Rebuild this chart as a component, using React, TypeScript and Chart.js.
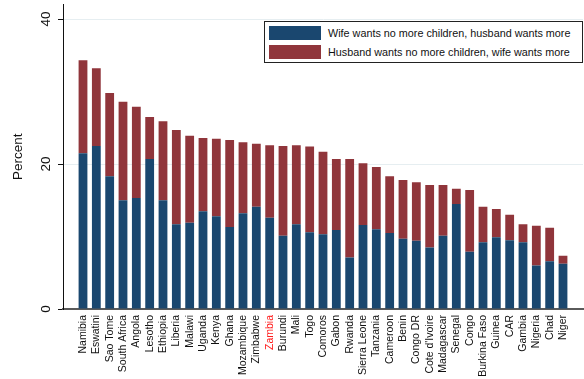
import React, { useEffect, useRef } from "react";
import { Chart, registerables } from "chart.js";

Chart.register(...registerables);

// Countries, ordered by the combined share of couples who disagree
const countries = [
  "Namibia", "Eswatini", "Sao Tome", "South Africa", "Angola", "Lesotho",
  "Ethiopia", "Liberia", "Malawi", "Uganda", "Kenya", "Ghana", "Mozambique",
  "Zimbabwe", "Zambia", "Burundi", "Mali", "Togo", "Comoros", "Gabon",
  "Rwanda", "Sierra Leone", "Tanzania", "Cameroon", "Benin", "Congo DR",
  "Cote d'Ivoire", "Madagascar", "Senegal", "Congo", "Burkina Faso",
  "Guinea", "CAR", "Gambia", "Nigeria", "Chad", "Niger",
];

// Wife wants no more children, husband wants more (%)
const wifeNoMore = [
  21.5, 22.5, 18.3, 15.0, 15.3, 20.7, 15.0, 11.7, 11.9, 13.5, 12.8, 11.3,
  13.2, 14.1, 12.6, 10.1, 11.7, 10.6, 10.3, 10.9, 7.1, 11.6, 11.0, 10.5,
  9.7, 9.4, 8.5, 10.1, 14.5, 7.9, 9.2, 9.9, 9.5, 9.2, 6.0, 6.6, 6.25,
];

// Husband wants no more children, wife wants more (%)
const husbandNoMore = [
  12.8, 10.7, 11.5, 13.6, 12.6, 5.8, 10.9, 13.0, 12.0, 10.1, 10.7, 12.0,
  9.8, 8.7, 10.0, 12.4, 10.9, 11.8, 11.4, 9.8, 13.6, 8.5, 8.6, 7.8,
  8.1, 8.1, 8.6, 7.0, 2.1, 8.5, 4.9, 3.9, 3.5, 2.5, 5.5, 4.6, 1.1,
];

const seriesLabels = [
  "Wife wants no more children, husband wants more",
  "Husband wants no more children, wife wants more",
];
const seriesColors = ["#1a476f", "#90353b"];

const yTicks = [0, 20, 40];
const highlighted = "Zambia";

const FONT = '"Liberation Sans", Arial, Helvetica, sans-serif';

// Stata-style vertical tick labels on the value axis
const yTickLabels = {
  id: "yTickLabels",
  afterDraw(chart: any) {
    const scale = chart.scales.y;
    const ctx = chart.ctx;
    ctx.save();
    ctx.font = `13.5px ${FONT}`;
    ctx.fillStyle = "#111";
    ctx.textAlign = "center";
    ctx.textBaseline = "middle";
    for (const t of scale.ticks) {
      const y = scale.getPixelForValue(t.value);
      ctx.save();
      ctx.translate(scale.right - 17, y);
      ctx.rotate(-Math.PI / 2);
      ctx.fillText(String(t.value), 0, 0);
      ctx.restore();
    }
    ctx.restore();
  },
};

export default function App() {
  const canvasRef = useRef<HTMLCanvasElement | null>(null);

  useEffect(() => {
    if (!canvasRef.current) return;
    const chart = new Chart(canvasRef.current, {
      type: "bar",
      data: {
        datasets: [
          {
            label: seriesLabels[0],
            data: wifeNoMore.map((v, i) => ({ x: i, y: v })),
            backgroundColor: seriesColors[0],
            barPercentage: 0.66,
            categoryPercentage: 1,
          },
          {
            label: seriesLabels[1],
            data: husbandNoMore.map((v, i) => ({ x: i, y: v })),
            backgroundColor: seriesColors[1],
            barPercentage: 0.66,
            categoryPercentage: 1,
          },
        ],
      },
      plugins: [yTickLabels],
      options: {
        animation: false,
        responsive: false,
        devicePixelRatio: 1,
        layout: { padding: { left: 0, right: 1, top: 4.5, bottom: 0 } },
        plugins: {
          legend: { display: false },
          tooltip: { enabled: false },
        },
        scales: {
          x: {
            type: "linear",
            stacked: true,
            offset: false,
            min: -1.5,
            max: countries.length + 0.5,
            afterBuildTicks: (s: any) => {
              s.ticks = countries.map((_, i) => ({ value: i }));
            },
            afterFit: (s: any) => {
              s.height = 70;
              s.paddingLeft = 0;
              s.paddingRight = 0;
            },
            grid: { display: false, drawTicks: false },
            border: { display: true, color: "#5a5a5a", width: 2 },
            ticks: {
              autoSkip: false,
              minRotation: 90,
              maxRotation: 90,
              padding: 6,
              font: { family: FONT, size: 10.5 },
              color: (ctx: any) =>
                countries[ctx.tick?.value] === highlighted ? "#ff1a1a" : "#111",
              callback: (v: any) => countries[v] ?? "",
            },
          },
          y: {
            stacked: true,
            min: 0,
            max: 42,
            afterBuildTicks: (s: any) => {
              s.ticks = yTicks.map((v) => ({ value: v }));
            },
            afterFit: (s: any) => {
              s.width = 63;
            },
            ticks: { display: false },
            grid: {
              color: (ctx: any) =>
                ctx.tick && ctx.tick.value === 0 ? "rgba(0,0,0,0)" : "#e6eef1",
              tickColor: "#111",
              tickLength: 5,
              lineWidth: 1,
              drawTicks: true,
            },
            border: { display: true, color: "#111", width: 1 },
            title: {
              display: true,
              text: "Percent",
              color: "#111",
              font: { family: FONT, size: 13.5 },
              padding: { top: 10, bottom: 0 },
            },
          },
        },
      },
    });
    return () => chart.destroy();
  }, []);

  return (
    <div
      style={{
        position: "absolute",
        left: 0,
        top: 0,
        width: 584,
        height: 379,
        background: "#fff",
      }}
    >
      <canvas ref={canvasRef} width={584} height={379} style={{ display: "block" }} />
      <div
        style={{
          position: "absolute",
          left: 264,
          top: 21,
          width: 319,
          height: 42,
          boxSizing: "border-box",
          border: "1px solid #222",
          background: "#fff",
          fontFamily: FONT,
          fontSize: 10.8,
          color: "#111",
        }}
      >
        {seriesLabels.map((label, i) => (
          <div
            key={label}
            style={{
              position: "absolute",
              left: 4,
              top: 4 + i * 18.5,
              height: 14,
              display: "flex",
              alignItems: "center",
              whiteSpace: "nowrap",
            }}
          >
            <span
              style={{
                display: "inline-block",
                width: 52,
                height: 14,
                background: seriesColors[i],
                marginRight: 7,
              }}
            />
            <span>{label}</span>
          </div>
        ))}
      </div>
    </div>
  );
}
